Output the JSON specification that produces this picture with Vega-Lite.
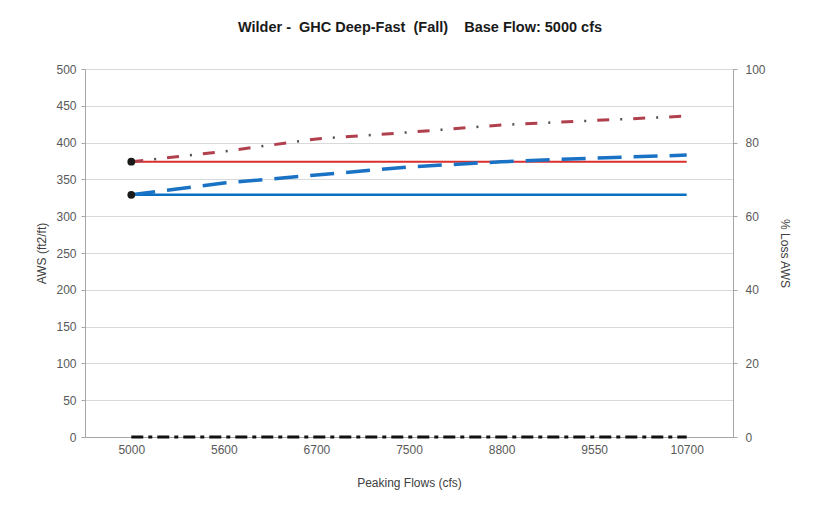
{
  "$schema": "https://vega.github.io/schema/vega-lite/v6.json",
  "width": 648,
  "height": 368,
  "autosize": "none",
  "padding": {"left": 85, "top": 69, "right": 87, "bottom": 69},
  "background": "white",
  "config": {
    "font": "Liberation Sans",
    "view": {"stroke": "#a6a6a6", "strokeWidth": 1},
    "axis": {"labelFont": "Liberation Sans", "titleFont": "Liberation Sans", "labelColor": "#595959", "titleColor": "#404040", "labelFontSize": 12, "titleFontSize": 12, "titleFontWeight": "normal", "domainColor": "#a6a6a6", "tickColor": "#a6a6a6", "gridColor": "#d9d9d9"}
  },
  "title": {"text": "Wilder -\u00a0 GHC Deep-Fast\u00a0 (Fall)\u00a0\u00a0\u00a0 Base Flow: 5000 cfs", "font": "Liberation Sans", "fontSize": 14.5, "fontWeight": "bold", "color": "#1a1a1a", "anchor": "middle", "frame": "group", "dx": 11, "offset": 28},
  "datasets": {
    "aws": [
      {"flow": "5000", "series": "red_solid", "aws": 374},
      {"flow": "5600", "series": "red_solid", "aws": 374},
      {"flow": "6700", "series": "red_solid", "aws": 374},
      {"flow": "7500", "series": "red_solid", "aws": 374},
      {"flow": "8800", "series": "red_solid", "aws": 374},
      {"flow": "9550", "series": "red_solid", "aws": 374},
      {"flow": "10700", "series": "red_solid", "aws": 374},
      {"flow": "5000", "series": "blue_solid", "aws": 329},
      {"flow": "5600", "series": "blue_solid", "aws": 329},
      {"flow": "6700", "series": "blue_solid", "aws": 329},
      {"flow": "7500", "series": "blue_solid", "aws": 329},
      {"flow": "8800", "series": "blue_solid", "aws": 329},
      {"flow": "9550", "series": "blue_solid", "aws": 329},
      {"flow": "10700", "series": "blue_solid", "aws": 329},
      {"flow": "5000", "series": "blue_dash", "aws": 329},
      {"flow": "5600", "series": "blue_dash", "aws": 345},
      {"flow": "6700", "series": "blue_dash", "aws": 356},
      {"flow": "7500", "series": "blue_dash", "aws": 367},
      {"flow": "8800", "series": "blue_dash", "aws": 374},
      {"flow": "9550", "series": "blue_dash", "aws": 379},
      {"flow": "10700", "series": "blue_dash", "aws": 383},
      {"flow": "5000", "series": "red_dashdot", "aws": 374},
      {"flow": "5600", "series": "red_dashdot", "aws": 388},
      {"flow": "6700", "series": "red_dashdot", "aws": 405},
      {"flow": "7500", "series": "red_dashdot", "aws": 414},
      {"flow": "8800", "series": "red_dashdot", "aws": 424},
      {"flow": "9550", "series": "red_dashdot", "aws": 430},
      {"flow": "10700", "series": "red_dashdot", "aws": 436},
      {"flow": "5000", "series": "marker", "aws": 374},
      {"flow": "5000", "series": "marker", "aws": 329}
    ],
    "pct": [
      {"flow": "5000", "pct": 0},
      {"flow": "5600", "pct": 0},
      {"flow": "6700", "pct": 0},
      {"flow": "7500", "pct": 0},
      {"flow": "8800", "pct": 0},
      {"flow": "9550", "pct": 0},
      {"flow": "10700", "pct": 0}
    ]
  },
  "encoding": {
    "x": {"field": "flow", "type": "ordinal", "scale": {"type": "point", "padding": 0.5, "domain": ["5000", "5600", "6700", "7500", "8800", "9550", "10700"]}, "axis": {"title": "Peaking Flows (cfs)", "labelAngle": 0, "ticks": false, "labelPadding": 7, "titlePadding": 22, "grid": false}}
  },
  "layer": [
    {
      "data": {"name": "aws"},
      "encoding": {
        "y": {"field": "aws", "type": "quantitative", "scale": {"domain": [0, 500]}, "axis": {"orient": "left", "title": "AWS (ft2/ft)", "values": [0, 50, 100, 150, 200, 250, 300, 350, 400, 450, 500], "tickSize": 4, "labelPadding": 5, "titlePadding": 7, "grid": true}}
      },
      "layer": [
        {"transform": [{"filter": "datum.series == 'blue_solid'"}], "mark": {"type": "line", "color": "#0a6fc2", "strokeWidth": 2.5}},
        {"transform": [{"filter": "datum.series == 'red_solid'"}], "mark": {"type": "line", "color": "#d9302e", "strokeWidth": 2.2}},
        {"transform": [{"filter": "datum.series == 'blue_dash'"}], "mark": {"type": "line", "color": "#1a72c4", "strokeWidth": 3.5, "strokeDash": [24, 12]}},
        {"transform": [{"filter": "datum.series == 'red_dashdot'"}], "mark": {"type": "line", "color": "#b0404e", "strokeWidth": 3, "strokeDash": [12, 24]}},
        {"transform": [{"filter": "datum.series == 'red_dashdot'"}], "mark": {"type": "line", "color": "#505050", "strokeWidth": 2.5, "strokeDash": [2, 34], "strokeDashOffset": 13}},
        {"transform": [{"filter": "datum.series == 'marker'"}], "mark": {"type": "point", "filled": true, "color": "#1a1a1a", "size": 60, "opacity": 1}}
      ]
    },
    {
      "data": {"name": "pct"},
      "mark": {"type": "line", "color": "#111111", "strokeWidth": 3, "strokeDash": [12, 5, 4, 5]},
      "encoding": {
        "y": {"field": "pct", "type": "quantitative", "scale": {"domain": [0, 100]}, "axis": {"orient": "right", "title": "% Loss AWS", "values": [0, 20, 40, 60, 80, 100], "tickSize": 4, "labelPadding": 8, "titlePadding": 12, "grid": false}}
      }
    }
  ],
  "resolve": {"scale": {"y": "independent"}, "axis": {"y": "independent"}}
}
